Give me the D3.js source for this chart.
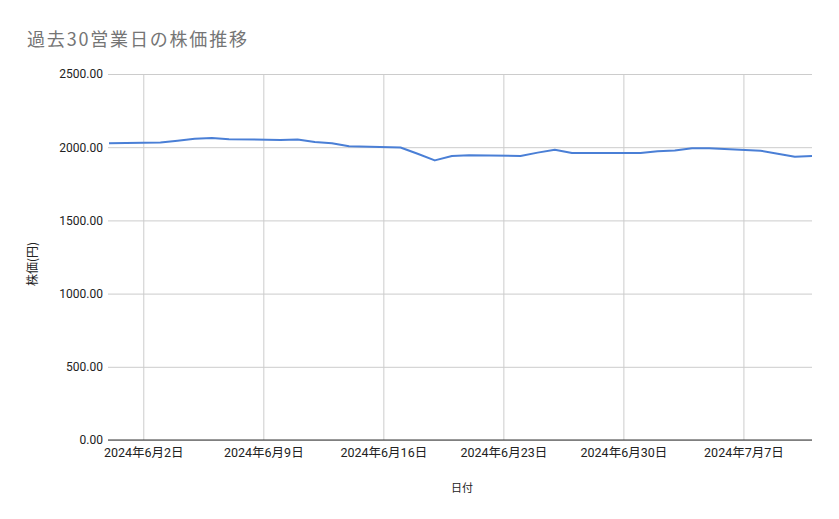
<!DOCTYPE html>
<html>
<head>
<meta charset="utf-8">
<script src="https://cdn.jsdelivr.net/npm/d3@7"></script>
<style>
  body { margin: 0; background: #fff; }
  text { font-family: Roboto, "Noto Sans CJK JP", sans-serif; }
</style>
</head>
<body>
<svg id="chart"></svg>
<script>
var dates = ["2024-05-31", "2024-06-03", "2024-06-04", "2024-06-05", "2024-06-06", "2024-06-07",
             "2024-06-10", "2024-06-11", "2024-06-12", "2024-06-13", "2024-06-14",
             "2024-06-17", "2024-06-18", "2024-06-19", "2024-06-20", "2024-06-21",
             "2024-06-24", "2024-06-25", "2024-06-26", "2024-06-27", "2024-06-28",
             "2024-07-01", "2024-07-02", "2024-07-03", "2024-07-04", "2024-07-05",
             "2024-07-08", "2024-07-09", "2024-07-10", "2024-07-11"];
var prices = [2027, 2032, 2044, 2058, 2062, 2055,
              2049, 2052, 2035, 2027, 2006,
              1998, 1955, 1910, 1940, 1945,
              1940, 1963, 1983, 1960, 1960,
              1960, 1973, 1977, 1993, 1992,
              1976, 1955, 1935, 1940];
var xTicks = ["2024-06-02", "2024-06-09", "2024-06-16", "2024-06-23", "2024-06-30", "2024-07-07"];
var yTicks = [0, 500, 1000, 1500, 2000, 2500];

var width = 839, height = 519;
var margin = { top: 74, left: 109, bottom: 79, right: 27 };

var parse = d3.timeParse("%Y-%m-%d");
var data = dates.map(function(d, i) { return { date: parse(d), value: prices[i] }; });

var svg = d3.select("#chart")
            .attr("width", width)
            .attr("height", height);

var x = d3.scaleTime()
          .domain([parse(dates[0]), parse(dates[dates.length - 1])])
          .range([margin.left, width - margin.right]);
var y = d3.scaleLinear()
          .domain([0, 2500])
          .range([height - margin.bottom, margin.top]);

// title
svg.append("text")
   .attr("x", 27)
   .attr("y", 46)
   .attr("textLength", 220)
   .attr("lengthAdjust", "spacing")
   .style("font-family", "'Noto Sans CJK JP', sans-serif")
   .style("font-size", "18px")
   .style("fill", "#757575")
   .text("過去30営業日の株価推移");

// horizontal grid + y labels
var yAxis = d3.axisLeft(y)
              .tickValues(yTicks)
              .tickSize(-(width - margin.right - margin.left + 1))
              .tickPadding(5)
              .tickFormat(d3.format(".2f"));
var gy = svg.append("g")
            .attr("transform", "translate(" + (margin.left - 1) + ",0)")
            .call(yAxis);
gy.select(".domain").remove();
gy.selectAll(".tick line").attr("stroke", "#cccccc");
gy.selectAll(".tick text")
  .style("font-family", "Roboto, sans-serif")
  .style("font-size", "12px")
  .style("fill", "#222");

// vertical grid + x labels
var xAxis = d3.axisBottom(x)
              .tickValues(xTicks.map(parse))
              .tickSize(-(height - margin.bottom - margin.top))
              .tickPadding(8)
              .tickFormat(d3.timeFormat("%Y年%-m月%-d日"));
var gx = svg.append("g")
            .attr("transform", "translate(0," + (height - margin.bottom) + ")")
            .call(xAxis);
gx.select(".domain").remove();
gx.selectAll(".tick line").attr("stroke", "#cccccc");
gx.selectAll(".tick text")
  .style("font-family", "Roboto, 'Noto Sans CJK JP', sans-serif")
  .style("font-size", "12.5px")
  .style("fill", "#222");

// baseline
svg.append("line")
   .attr("x1", margin.left - 1)
   .attr("x2", width - margin.right)
   .attr("y1", y(0))
   .attr("y2", y(0))
   .attr("stroke", "#333")
   .attr("stroke-width", 1);

// series line
var line = d3.line()
             .x(function(d) { return x(d.date); })
             .y(function(d) { return y(d.value); });
svg.append("path")
   .datum(data)
   .attr("fill", "none")
   .attr("stroke", "#4a7fd6")
   .attr("stroke-width", 2)
   .attr("stroke-linejoin", "round")
   .attr("d", line);

// axis titles
svg.append("text")
   .attr("x", 462)
   .attr("y", 492)
   .attr("text-anchor", "middle")
   .style("font-family", "'Noto Sans CJK JP', sans-serif")
   .style("font-size", "11px")
   .style("fill", "#222")
   .text("日付");

svg.append("text")
   .attr("transform", "translate(37,264) rotate(-90)")
   .attr("text-anchor", "middle")
   .style("font-family", "'Noto Sans CJK JP', sans-serif")
   .style("font-size", "12px")
   .style("fill", "#222")
   .text("株価(円)");
</script>
</body>
</html>
